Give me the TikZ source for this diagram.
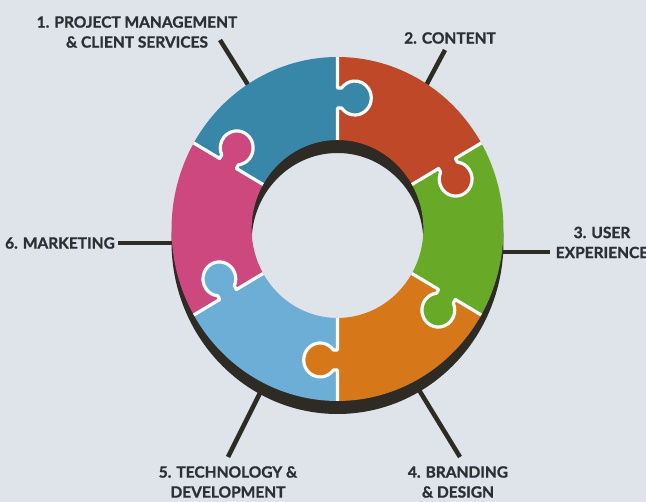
\documentclass[tikz,border=0pt]{standalone}
\usepackage{fontspec}
\setmainfont{Lato}[BoldFeatures={FakeBold=1.2}]
\definecolor{paper}{RGB}{222,228,234}
\definecolor{ink}{RGB}{44,48,53}
\definecolor{ringdark}{RGB}{46,42,36}
\definecolor{pblue}{RGB}{56,134,168}
\definecolor{pred}{RGB}{190,72,40}
\definecolor{pgreen}{RGB}{104,170,40}
\definecolor{porange}{RGB}{214,120,26}
\definecolor{plight}{RGB}{108,174,214}
\definecolor{ppink}{RGB}{206,72,128}

% One ring piece centred on angle #1: a tab on its clockwise edge,
% a blank on its counter-clockwise edge.
\newcommand\ringpiece[2]{%
  \fill[#2] ({#1-30}:89) -- ({#1-30}:121) -- ({#1-30-2.012}:121.07)
    arc[start angle={#1-30+126.03}, end angle={#1-30+413.97}, radius=17]
    -- ({#1-30}:141) -- ({#1-30}:172)
    arc[start angle={#1-30}, end angle={#1+30}, radius=172]
    -- ({#1+30}:141) -- ({#1+30-1.726}:141.06)
    arc[start angle={#1+30+53.97}, end angle={#1+30-233.97}, radius=17]
    -- ({#1+30}:121) -- ({#1+30}:89)
    arc[start angle={#1+30}, end angle={#1-30}, radius=89] -- cycle;}
% White joint between two pieces along the edge at angle #1
\newcommand\joint[1]{%
  \draw[seam] ({#1}:89) -- ({#1}:121) -- ({#1-2.012}:121.07)
    arc[start angle={#1+126.03}, end angle={#1+413.97}, radius=17]
    -- ({#1}:141) -- ({#1}:172);}

\begin{document}
\begin{tikzpicture}[x=1pt,y=1pt,
  tag/.style={font=\fontsize{15.5}{20}\selectfont\bfseries, text=ink, align=center, inner sep=0pt},
  leader/.style={draw=ringdark, line width=4.5pt},
  seam/.style={draw=white, line width=3.2pt, line join=round}]
\useasboundingbox (0,0) rectangle (646,502);
\clip (0,0) rectangle (646,502);
\fill[paper] (0,0) rectangle (646,502);

% labels
\node[tag] (t1) at (137,470) {1. PROJECT MANAGEMENT\\\& CLIENT SERVICES};
\node[tag] (t2) at (450,464) {2. CONTENT};
\node[tag] (t3) at (602,259.5) {3. USER\\EXPERIENCE};
\node[tag] (t4) at (458,20) {4. BRANDING\\\& DESIGN};
\node[tag] (t5) at (228,20) {5. TECHNOLOGY \&\\DEVELOPMENT};
\node[tag] (t6) at (60,259) {6. MARKETING};

% leader lines, running in under the ring
\coordinate (a1) at (220,462); \coordinate (b1) at (250,414);
\coordinate (a2) at (445,452); \coordinate (b2) at (421,407);
\coordinate (a3) at (550,250); \coordinate (b3) at (495,250);
\coordinate (a4) at (460,45);  \coordinate (b4) at (419,112);
\coordinate (a5) at (228,45);  \coordinate (b5) at (261,111);
\coordinate (a6) at (118,259); \coordinate (b6) at (180,259);
\foreach \i in {1,...,6} {\draw[leader] (a\i) -- (b\i);}

\begin{scope}[shift={(337.5,273)}, xscale=0.965]
  % dark underside of the ring
  \fill[ringdark, even odd rule] (0,-13) circle[radius=172] (0,-13) circle[radius=89];
  % the six pieces
  \ringpiece{0}{pgreen}
  \ringpiece{60}{pred}
  \ringpiece{120}{pblue}
  \ringpiece{180}{ppink}
  \ringpiece{240}{plight}
  \ringpiece{300}{porange}
  \foreach \e in {30,90,150,210,270,330} {\joint{\e}}
\end{scope}
\end{tikzpicture}
\end{document}
